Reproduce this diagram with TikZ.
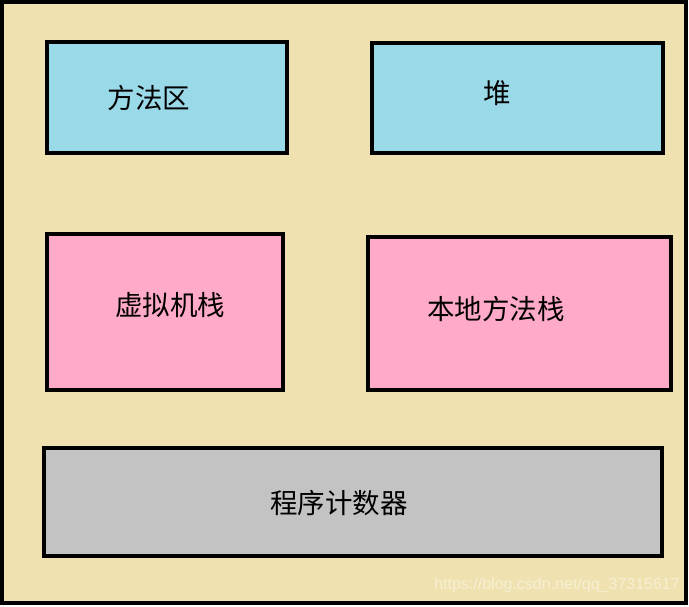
\documentclass[tikz,border=0pt]{standalone}
\usepackage{fontspec}
\setmainfont{Liberation Sans}
\newfontfamily\cjk{Noto Sans CJK SC}
\definecolor{bgk}{HTML}{EFE2B0}
\definecolor{bluebox}{HTML}{9AD9E8}
\definecolor{pinkbox}{HTML}{FFAAC8}
\definecolor{graybox}{HTML}{C3C3C3}
\definecolor{wm}{HTML}{F7EFD3}
\tikzset{
  region/.style={draw=black, line width=3.5pt, inner sep=0pt, outer sep=0pt},
  lbl/.style={font=\cjk\fontsize{27.5}{32}\selectfont, text=black, inner sep=0pt, anchor=center},
}
\begin{document}
\begin{tikzpicture}[x=1pt,y=-1pt]
\useasboundingbox (0,0) rectangle (689,606);
\draw[fill=bgk, draw=black, line width=4pt] (2,2) rectangle (686,603);
% boxes
\draw[region, fill=bluebox] (47,42) rectangle (287,153);
\draw[region, fill=bluebox] (372,43) rectangle (663,153);
\draw[region, fill=pinkbox] (47,234) rectangle (283,390);
\draw[region, fill=pinkbox] (368,237) rectangle (671,390);
\draw[region, fill=graybox] (44,448) rectangle (662,556);
% labels
\node[lbl] (ff) at (149,98) {方法区};
\node[lbl] (dui) at (497,93) {堆};
\node[lbl] (xnj) at (170,305) {虚拟机栈};
\node[lbl] (bd) at (496,309) {本地方法栈};
\node[lbl] (cx) at (339,503) {程序计数器};
\node[font=\fontsize{16}{19}\selectfont, text=wm, anchor=east, inner sep=0pt] (wmk) at (680,585) {https://blog.csdn.net/qq\_37315617};
\end{tikzpicture}
\end{document}
